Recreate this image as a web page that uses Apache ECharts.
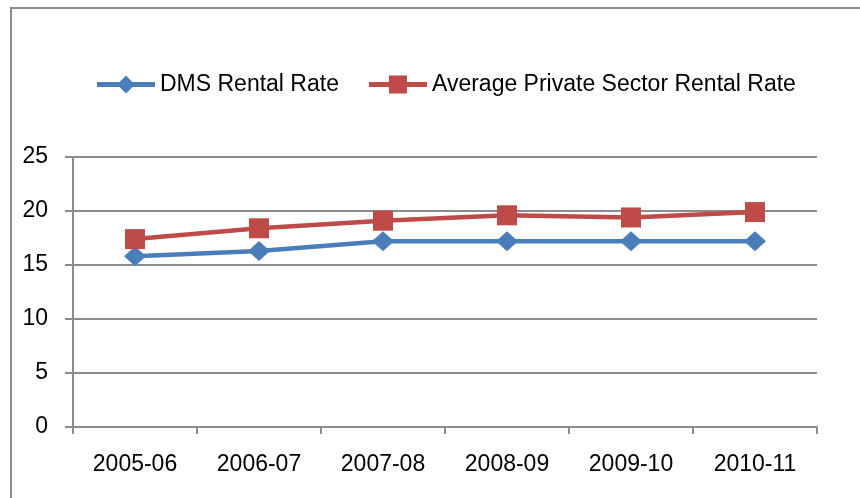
<!DOCTYPE html>
<html>
<head>
<meta charset="utf-8">
<script src="https://cdn.jsdelivr.net/npm/echarts@6/dist/echarts.min.js"></script>
<style>
  html, body { margin: 0; padding: 0; background: #fff; }
  #chart { width: 860px; height: 498px; }
</style>
</head>
<body>
<div id="chart"></div>
<script>
const categories = ['2005-06', '2006-07', '2007-08', '2008-09', '2009-10', '2010-11']
const dmsRate = [15.8, 16.3, 17.2, 17.2, 17.2, 17.2]
const privateRate = [17.4, 18.4, 19.1, 19.6, 19.4, 19.9]
const seriesNames = ['DMS Rental Rate', 'Average Private Sector Rental Rate']

const font = 'Liberation Sans, Arial, sans-serif'
const gray = '#8c8c8c'
const blue = '#4a7ebb'
const red = '#be4b48'

// legend icons: thick line with the marker in the middle (58 x 18 box)
const diamondIcon = 'path://M0,6.5 H22.5 L29,0 L35.5,6.5 H58 V11.5 H35.5 L29,18 L22.5,11.5 H0 Z'
const squareIcon = 'path://M0,6.5 H20 V0 H38 V6.5 H58 V11.5 H38 V18 H20 V11.5 H0 Z'

const chart = echarts.init(document.getElementById('chart'))

chart.setOption({
  animation: false,
  textStyle: { fontFamily: font },
  graphic: [{
    type: 'rect',
    z: -1,
    shape: { x: 11, y: 8, width: 900, height: 600 },
    style: { fill: 'none', stroke: gray, lineWidth: 2 }
  }],
  legend: {
    left: 92,
    top: 68,
    itemWidth: 58,
    itemHeight: 18,
    itemGap: 30,
    textStyle: { fontSize: 23, color: '#000', fontFamily: font },
    data: [
      { name: seriesNames[0], icon: diamondIcon, itemStyle: { color: blue } },
      { name: seriesNames[1], icon: squareIcon, itemStyle: { color: red } }
    ]
  },
  grid: { left: 73, right: 43, top: 157, bottom: 71 },
  xAxis: {
    type: 'category',
    data: categories,
    boundaryGap: true,
    axisLine: { lineStyle: { color: gray, width: 2 } },
    axisTick: { show: true, length: 7, lineStyle: { color: gray, width: 2 } },
    axisLabel: { fontSize: 23, color: '#000', margin: 26, fontFamily: font }
  },
  yAxis: {
    type: 'value',
    min: 0,
    max: 25,
    interval: 5,
    axisLine: { show: true, lineStyle: { color: gray, width: 2 } },
    axisTick: { show: true, length: 8, lineStyle: { color: gray, width: 2 } },
    axisLabel: { fontSize: 23, color: '#000', margin: 25, fontFamily: font },
    splitLine: { lineStyle: { color: gray, width: 2 } }
  },
  series: [
    {
      name: seriesNames[0],
      type: 'line',
      data: dmsRate,
      symbol: 'diamond',
      symbolSize: [22, 20],
      itemStyle: { color: blue },
      lineStyle: { color: blue, width: 4.5 }
    },
    {
      name: seriesNames[1],
      type: 'line',
      data: privateRate,
      symbol: 'rect',
      symbolSize: 20,
      itemStyle: { color: red },
      lineStyle: { color: red, width: 4.5 }
    }
  ]
})
</script>
</body>
</html>
